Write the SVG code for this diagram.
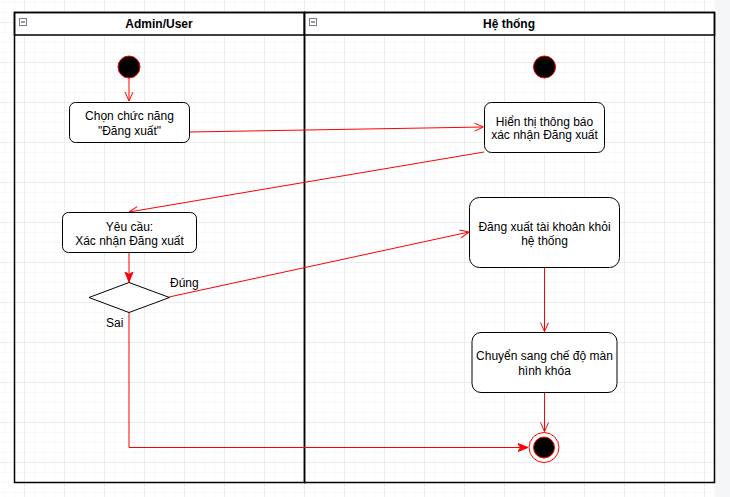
<svg xmlns="http://www.w3.org/2000/svg" width="730" height="497" viewBox="0 0 730 497">
<defs>
<pattern id="minor" x="4" y="2" width="10" height="10" patternUnits="userSpaceOnUse">
<path d="M0 0H10M0 0V10" fill="none" stroke="#f3f3f3" stroke-width="1"/>
</pattern>
<pattern id="major" x="24" y="22" width="40" height="40" patternUnits="userSpaceOnUse">
<path d="M0 0H40M0 0V40" fill="none" stroke="#e2e2e2" stroke-width="1"/>
</pattern>
<marker id="open" viewBox="0 0 10 10" refX="10" refY="5" markerWidth="10" markerHeight="10" markerUnits="userSpaceOnUse" orient="auto">
<path d="M1 1L10 5L1 9" fill="none" stroke="#ff0000" stroke-width="1"/>
</marker>
<marker id="fill" viewBox="0 0 10 10" refX="10" refY="5" markerWidth="10" markerHeight="10" markerUnits="userSpaceOnUse" orient="auto">
<path d="M0 1L10 5L0 9L2.5 5Z" fill="#ff0000" stroke="#ff0000" stroke-width="1"/>
</marker>
</defs>
<style>
.lane{fill:none;stroke:#000;stroke-width:1.5}
.head{fill:#fff;stroke:#000;stroke-width:1.5}
.title{font-family:"Liberation Sans",Arial,sans-serif;font-size:12px;font-weight:bold;fill:#000;text-anchor:middle}
.box{fill:#fff;stroke:#000;stroke-width:1}
.t{font-family:"Liberation Sans",Arial,sans-serif;font-size:12px;fill:#000;text-anchor:middle}
.lbl{font-family:"Liberation Sans",Arial,sans-serif;font-size:12px;fill:#000}
.c{fill:none;stroke:#ff0000;stroke-width:1}
.icon{fill:#fff;stroke:#7a7a8a;stroke-width:1}
</style>
<rect width="730" height="497" fill="#fff"/>
<rect width="716" height="497" fill="url(#minor)"/>
<rect width="716" height="497" fill="url(#major)"/>
<rect x="715.5" y="0" width="14.5" height="497" fill="#f5f6f8"/>

<g id="lane-admin">
<rect class="head" x="14.5" y="12.5" width="290" height="22.5"/>
<rect class="lane" x="14.5" y="12.5" width="290" height="470"/>
<rect class="icon" x="19.5" y="18.5" width="7" height="7"/>
<path d="M21 22H25" stroke="#333" stroke-width="1"/>
<text class="title" x="159" y="28">Admin/User</text>
</g>
<g id="lane-system">
<rect class="head" x="304.5" y="12.5" width="410" height="22.5"/>
<rect class="lane" x="304.5" y="12.5" width="410" height="470"/>
<rect class="icon" x="309.5" y="18.5" width="7" height="7"/>
<path d="M311 22H315" stroke="#333" stroke-width="1"/>
<text class="title" x="509" y="28">Hệ thống</text>
</g>

<g id="connectors">
<path class="c" d="M129 78V101" marker-end="url(#open)"/>
<path class="c" d="M189 132L483.5 127" marker-end="url(#open)"/>
<path class="c" d="M484 152L129 212" marker-end="url(#open)"/>
<path class="c" d="M129 252V282" marker-end="url(#fill)"/>
<path class="c" d="M169 297L469 232" marker-end="url(#open)"/>
<path class="c" d="M129 312V447.5H528" marker-end="url(#fill)"/>
<path class="c" d="M544.5 267V331.5" marker-end="url(#open)"/>
<path class="c" d="M544.5 392V431.5" marker-end="url(#open)"/>
</g>

<g id="start-admin">
<circle cx="129" cy="67" r="11" fill="#000" stroke="#ff0000" stroke-width="1"/>
</g>
<g id="start-system">
<circle cx="544.5" cy="67" r="11" fill="#000" stroke="#ff0000" stroke-width="1"/>
</g>

<g id="chon-chuc-nang">
<rect class="box" x="69.5" y="102.5" width="120" height="40" rx="6"/>
<text class="t" x="129.5" y="120">Chọn chức năng</text>
<text class="t" x="129.5" y="134.5">"Đăng xuất"</text>
</g>
<g id="hien-thi">
<rect class="box" x="484.5" y="102.5" width="120" height="50" rx="7"/>
<text class="t" x="544.5" y="126">Hiển thị thông báo</text>
<text class="t" x="544.5" y="139">xác nhận Đăng xuất</text>
</g>
<g id="yeu-cau">
<rect class="box" x="62.5" y="212.5" width="134" height="40" rx="6"/>
<text class="t" x="129.5" y="230.5">Yêu cầu:</text>
<text class="t" x="129.5" y="244.5">Xác nhận Đăng xuất</text>
</g>
<g id="decision">
<path d="M129 282.5L169.5 297.5L129 312.5L89 297.5Z" fill="#fff" stroke="#000" stroke-width="1"/>
<text class="lbl" x="170" y="287">Đúng</text>
<text class="lbl" x="106" y="327">Sai</text>
</g>
<g id="dang-xuat">
<rect class="box" x="469.5" y="197.5" width="150" height="70" rx="10"/>
<text class="t" x="544.5" y="231">Đăng xuất tài khoản khỏi</text>
<text class="t" x="544.5" y="244.5">hệ thống</text>
</g>
<g id="chuyen-sang">
<rect class="box" x="472" y="332.5" width="145" height="60" rx="9"/>
<text class="t" x="544.5" y="360">Chuyển sang chế độ màn</text>
<text class="t" x="544.5" y="374.5">hình khóa</text>
</g>
<g id="end">
<circle cx="544" cy="447.5" r="15" fill="#fff" stroke="#ff0000" stroke-width="1"/>
<circle cx="544" cy="447.5" r="10.5" fill="#000" stroke="#ff0000" stroke-width="1"/>
</g>
</svg>
